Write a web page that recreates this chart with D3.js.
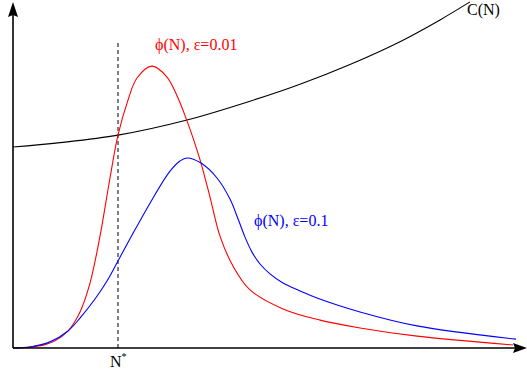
<!DOCTYPE html>
<html>
<head>
<meta charset="utf-8">
<script src="https://cdn.jsdelivr.net/npm/d3@7"></script>
<style>
  body { margin: 0; background: #fff; }
  text { font-family: "Liberation Serif", "Times New Roman", serif; }
</style>
</head>
<body>
<div id="chart"></div>
<script>
// cost curve C(N)
const costN = [0, 9.4, 21, 34.4, 47.4, 57.4, 67.4, 77.4, 85.4, 91.4];
const costC = [59.1, 60.4, 62.6, 66.9, 72.6, 77.6, 83.4, 90.1, 96.5, 101.8];

// phi(N), eps = 0.01
const phi001N = [0, 3.4, 6.4, 8.4, 11, 13.4, 15.4, 17.4, 19.4, 21, 23, 24.8, 27.8, 30.8, 33, 34.6, 36, 37.6, 39.4, 41.4, 44, 47.4, 54, 61.4, 69.4, 80.8, 100];
const phi001 = [0, 0.3, 1.0, 2.1, 5.0, 10.6, 19.1, 32.9, 50, 62.6, 72.9, 79.4, 82.9, 79.7, 73.5, 67.6, 61.8, 54.4, 44.4, 32.9, 24.1, 17.1, 11.5, 8.2, 5.9, 3.5, 0.9];

// phi(N), eps = 0.1
const phi01N = [0, 3.4, 7.4, 11, 13.4, 16.4, 18.8, 21, 23.4, 27.4, 31.4, 33.4, 34.8, 37.6, 40.8, 43.4, 45, 46.4, 47.8, 49.4, 51.4, 54, 57.4, 60.8, 69.4, 80.8, 100.6];
const phi01 = [0, 0.3, 1.8, 5.0, 8.8, 14.4, 19.7, 25.6, 32.1, 42.6, 52, 55, 55.9, 54.4, 50.0, 43.8, 38.0, 32.6, 28.2, 24.7, 21.8, 19.1, 16.8, 14.7, 10.6, 6.5, 2.6];

const nStar = 21;
const nStarTop = 90.6;

const labels = [
  {text: "\u03d5(N), \u03b5=0.01", n: 28.4, v: 87.6, color: "#ff0000"},
  {text: "\u03d5(N), \u03b5=0.1", n: 48.2, v: 35.9, color: "#0000ff"},
  {text: "C(N)", n: 90.8, v: 97.9, color: "#000000"}
];

const width = 527, height = 379;

const svg = d3.select("#chart").append("svg")
    .attr("width", width)
    .attr("height", height);

const x = d3.scaleLinear().domain([0, 100]).range([13, 513]);
const y = d3.scaleLinear().domain([0, 100]).range([348, 8]);

const line = d3.line()
    .x(d => x(d[0]))
    .y(d => y(d[1]))
    .curve(d3.curveCatmullRom.alpha(0.5));

// dashed N* marker
svg.append("line")
    .attr("x1", x(nStar)).attr("x2", x(nStar))
    .attr("y1", y(0)).attr("y2", y(nStarTop))
    .attr("stroke", "#000")
    .attr("stroke-width", 1)
    .attr("stroke-dasharray", "4,3");

const series = [
  {n: costN, v: costC, color: "#000000"},
  {n: phi001N, v: phi001, color: "#ff0000"},
  {n: phi01N, v: phi01, color: "#0000ff"}
];

svg.selectAll(".curve")
  .data(series)
  .join("path")
    .attr("class", "curve")
    .attr("d", s => line(s.n.map((n, i) => [n, s.v[i]])))
    .attr("fill", "none")
    .attr("stroke", s => s.color)
    .attr("stroke-width", 1.1);

// axes with arrowheads
const x0 = x(0), y0 = y(0);
svg.append("line")
    .attr("x1", x0).attr("x2", 518)
    .attr("y1", y0).attr("y2", y0)
    .attr("stroke", "#000").attr("stroke-width", 1.6);
svg.append("line")
    .attr("x1", x0).attr("x2", x0)
    .attr("y1", y0).attr("y2", 12)
    .attr("stroke", "#000").attr("stroke-width", 1.6);
svg.append("path")
    .attr("d", `M527,${y0}L513,${y0 - 5}L515,${y0}L513,${y0 + 5}Z`)
    .attr("fill", "#000");
svg.append("path")
    .attr("d", `M${x0},2L${x0 - 5},17L${x0},15L${x0 + 5},17Z`)
    .attr("fill", "#000");

// labels
svg.selectAll(".lbl")
  .data(labels)
  .join("text")
    .attr("class", "lbl")
    .attr("x", d => x(d.n))
    .attr("y", d => y(d.v))
    .attr("fill", d => d.color)
    .attr("font-size", 16)
    .text(d => d.text);

const ns = svg.append("text")
    .attr("x", x(nStar) - 8)
    .attr("y", 367)
    .attr("font-size", 16)
    .text("N");
ns.append("tspan")
    .attr("dy", -7)
    .attr("font-size", 10)
    .text("*");
</script>
</body>
</html>
